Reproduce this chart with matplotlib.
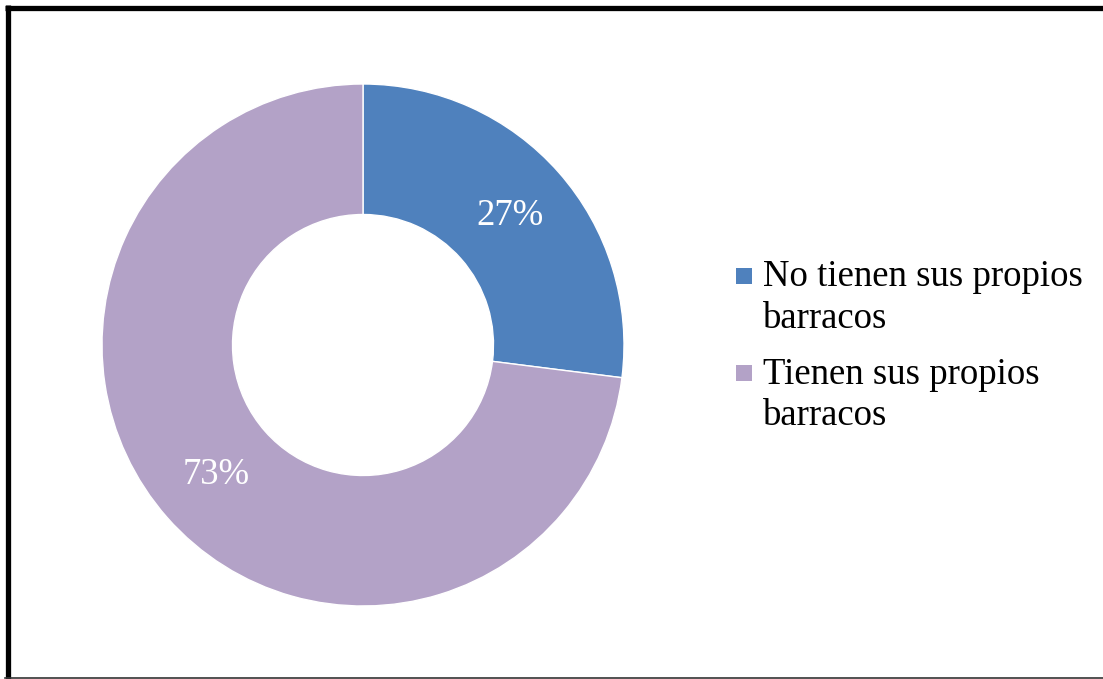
import matplotlib.pyplot as plt
from matplotlib.lines import Line2D
from matplotlib.patches import Rectangle

labels = ['No tienen sus propios\nbarracos', 'Tienen sus propios\nbarracos']
values = [27, 73]
colors = ['#4F81BD', '#B3A2C7']

plt.rcParams['font.family'] = ['Liberation Serif', 'DejaVu Serif']

W, H = 1103, 679
fig = plt.figure(figsize=(W / 100, H / 100), dpi=100)

# donut centre (363, 345) px, radius 261 px
cx, cy, r = 363, 345, 261
ax = fig.add_axes([(cx - r) / W, (H - cy - r) / H, 2 * r / W, 2 * r / H])
wedges, texts, autotexts = ax.pie(
    values, colors=colors, startangle=90, counterclock=False,
    radius=1, autopct='%1.0f%%', pctdistance=0.75,
    wedgeprops=dict(width=0.5, edgecolor='white', linewidth=1),
    textprops=dict(color='white', fontsize=26.5))
ax.set_xlim(-1, 1)
ax.set_ylim(-1, 1)
ax.set_aspect('equal')
ax.axis('off')

# legend drawn by hand so the square sits on the first line
leg_x = 763 / W
sq = 16
tops = [260, 357]
for i, lab in enumerate(labels):
    ty = tops[i]
    fig.patches.append(Rectangle(((leg_x * W - 27) / W, (H - ty - 24) / H), sq / W, sq / H,
                                 transform=fig.transFigure, facecolor=colors[i],
                                 edgecolor='none'))
    fig.text(leg_x, 1 - ty / H, lab, fontsize=26.5, va='top', ha='left',
             linespacing=1.25, color='black')

# frame: thick top/left, thin bottom
fig.add_artist(Line2D([5 / W, 1], [1 - 7.5 / H, 1 - 7.5 / H], color='black', lw=3.8,
                      transform=fig.transFigure, solid_capstyle='butt'))
fig.add_artist(Line2D([7.5 / W, 7.5 / W], [0, 1 - 5 / H], color='black', lw=3.8,
                      transform=fig.transFigure, solid_capstyle='butt'))
fig.add_artist(Line2D([5 / W, 1], [1.5 / H, 1.5 / H], color='#333333', lw=1.2,
                      transform=fig.transFigure))

fig.savefig('out.png', dpi=100)
